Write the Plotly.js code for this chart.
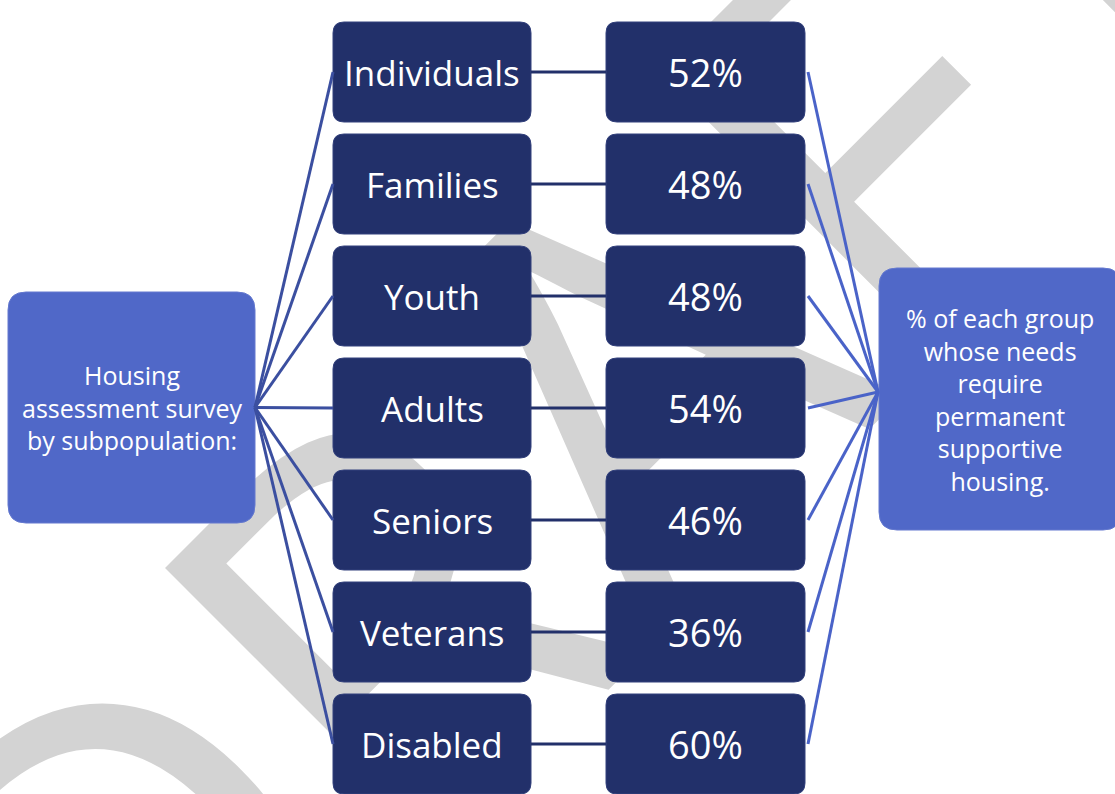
<!DOCTYPE html>
<html>
<head>
<meta charset="utf-8">
<script src="https://cdn.plot.ly/plotly-3.0.1.min.js"></script>
<style>
  html, body { margin: 0; padding: 0; background: #ffffff; overflow: hidden; }
  #wrap { position: relative; width: 1115px; height: 794px; }
  #bg, #fg { position: absolute; left: 0; top: 0; width: 1115px; height: 794px; }
</style>
</head>
<body>
<div id="wrap">
  <div id="bg"></div>
  <div id="fg"></div>
</div>
<script>
// ---- data ----
const categories = ['Individuals', 'Families', 'Youth', 'Adults', 'Seniors', 'Veterans', 'Disabled'];
const percentValues = [52, 48, 48, 54, 46, 36, 60];
const sourceLabel = 'Housing<br>assessment survey<br>by subpopulation:';
const outcomeLabel = '% of each group<br>whose needs<br>require<br>permanent<br>supportive<br>housing.';
const watermarkText = 'DRAFT';

// ---- styles / geometry ----
const W = 1115, H = 794;
const darkBox = '#22306a';
const sideBox = '#5068c8';
const leftLine = '#3b4fa0';
const rightLine = '#4a63c8';
const FONT = 'Open Sans, Lato, sans-serif';

const rowTop0 = 22, rowStep = 112, rowH = 100;
const catX0 = 333, catX1 = 531;
const valX0 = 606, valX1 = 805;
const srcBox = {x0: 8, y0: 292, x1: 255, y1: 523};
const outBox = {x0: 879, y0: 268, x1: 1121, y1: 530};
const hub = {x: 878, y: 392};

function rr(x0, y0, x1, y1, r) {
  return 'M' + (x0 + r) + ',' + y0 +
    ' L' + (x1 - r) + ',' + y0 + ' Q' + x1 + ',' + y0 + ' ' + x1 + ',' + (y0 + r) +
    ' L' + x1 + ',' + (y1 - r) + ' Q' + x1 + ',' + y1 + ' ' + (x1 - r) + ',' + y1 +
    ' L' + (x0 + r) + ',' + y1 + ' Q' + x0 + ',' + y1 + ' ' + x0 + ',' + (y1 - r) +
    ' L' + x0 + ',' + (y0 + r) + ' Q' + x0 + ',' + y0 + ' ' + (x0 + r) + ',' + y0 + ' Z';
}

const shapes = [];
const annotations = [];
const lx = [], ly = [], mx = [], my = [], rx = [], ry = [];
const srcMidX = srcBox.x1, srcMidY = (srcBox.y0 + srcBox.y1) / 2;

categories.forEach((cat, i) => {
  const top = rowTop0 + rowStep * i;
  const bot = top + rowH;
  const cy = (top + bot) / 2;
  shapes.push({type: 'path', xref: 'x', yref: 'y', layer: 'below', path: rr(catX0, top, catX1, bot, 11),
    fillcolor: darkBox, line: {color: '#33417c', width: 1}});
  shapes.push({type: 'path', xref: 'x', yref: 'y', layer: 'below', path: rr(valX0, top, valX1, bot, 11),
    fillcolor: darkBox, line: {color: '#33417c', width: 1}});
  annotations.push({x: (catX0 + catX1) / 2, y: cy, xref: 'x', yref: 'y', text: cat, showarrow: false,
    font: {family: FONT, size: 35, color: '#ffffff'}, xanchor: 'center', yanchor: 'middle'});
  annotations.push({x: (valX0 + valX1) / 2, y: cy, xref: 'x', yref: 'y', text: percentValues[i] + '%', showarrow: false,
    font: {family: FONT, size: 38, color: '#ffffff'}, xanchor: 'center', yanchor: 'middle'});
  lx.push(srcMidX, catX0, null); ly.push(srcMidY, cy, null);
  mx.push(catX1, valX0, null); my.push(cy, cy, null);
  rx.push(valX1 + 3, hub.x, null); ry.push(cy, hub.y, null);
});

shapes.push({type: 'path', xref: 'x', yref: 'y', layer: 'below', path: rr(srcBox.x0, srcBox.y0, srcBox.x1, srcBox.y1, 18),
  fillcolor: sideBox, line: {color: '#6479cf', width: 1}});
shapes.push({type: 'path', xref: 'x', yref: 'y', layer: 'below', path: rr(outBox.x0, outBox.y0, outBox.x1, outBox.y1, 18),
  fillcolor: sideBox, line: {color: '#6479cf', width: 1}});

annotations.push({x: (srcBox.x0 + srcBox.x1) / 2, y: srcMidY, xref: 'x', yref: 'y', text: sourceLabel, showarrow: false,
  font: {family: FONT, size: 25, color: '#ffffff'}, align: 'center', xanchor: 'center', yanchor: 'middle'});
annotations.push({x: 1000, y: (outBox.y0 + outBox.y1) / 2, xref: 'x', yref: 'y', text: outcomeLabel, showarrow: false,
  font: {family: FONT, size: 25, color: '#ffffff'}, align: 'center', xanchor: 'center', yanchor: 'middle'});

const traces = [
  {type: 'scatter', mode: 'lines', x: lx, y: ly, line: {color: leftLine, width: 3}, hoverinfo: 'skip', connectgaps: false},
  {type: 'scatter', mode: 'lines', x: mx, y: my, line: {color: darkBox, width: 3}, hoverinfo: 'skip', connectgaps: false},
  {type: 'scatter', mode: 'lines', x: rx, y: ry, line: {color: rightLine, width: 3}, hoverinfo: 'skip', connectgaps: false}
];

const axisHidden = {visible: false, showgrid: false, zeroline: false, fixedrange: true};

Plotly.newPlot('bg', [], {
  width: W, height: H, margin: {l: 0, r: 0, t: 0, b: 0},
  paper_bgcolor: '#ffffff', plot_bgcolor: '#ffffff',
  xaxis: Object.assign({range: [0, W]}, axisHidden),
  yaxis: Object.assign({range: [H, 0]}, axisHidden),
  annotations: [{x: 570, y: 420, xref: 'x', yref: 'y', text: watermarkText, showarrow: false, textangle: -45,
    font: {family: 'Open Sans, sans-serif', size: 560, color: '#d3d3d3'}, xanchor: 'center', yanchor: 'middle'}]
}, {staticPlot: true, displayModeBar: false});

Plotly.newPlot('fg', traces, {
  width: W, height: H, margin: {l: 0, r: 0, t: 0, b: 0},
  paper_bgcolor: 'rgba(0,0,0,0)', plot_bgcolor: 'rgba(0,0,0,0)',
  showlegend: false,
  xaxis: Object.assign({range: [0, W]}, axisHidden),
  yaxis: Object.assign({range: [H, 0]}, axisHidden),
  shapes: shapes,
  annotations: annotations
}, {staticPlot: true, displayModeBar: false});
</script>
</body>
</html>
